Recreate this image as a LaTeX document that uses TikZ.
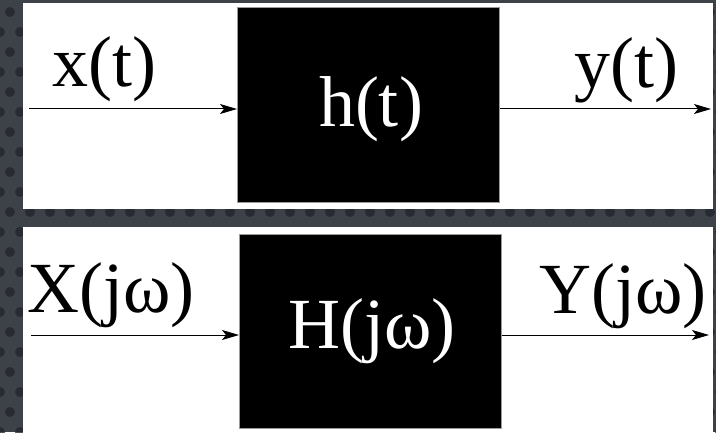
\documentclass[tikz,border=0pt]{standalone}
\usepackage{fontspec}
\setmainfont{Liberation Serif}
\usetikzlibrary{arrows.meta}
\definecolor{bgcol}{HTML}{3D4148}
\definecolor{dotcol}{HTML}{23272D}
\definecolor{edgecol}{HTML}{9A9A9A}
\tikzset{
  panel/.style={fill=white, draw=none},
  sysbox/.style={draw=edgecol, line width=0.8pt, fill=black, inner sep=0pt, anchor=south west},
  lbl/.style={inner sep=0pt, font=\fontsize{72}{76}\selectfont},
  sig/.style={line width=1pt, -{Stealth[length=17pt,width=10pt,inset=4pt]}}
}
\begin{document}
\begin{tikzpicture}[x=1pt,y=1pt]
\useasboundingbox (0,0) rectangle (716,432);
% textured background
\fill[bgcol] (0,0) rectangle (716,432);
\foreach \j in {0,...,22}{
  \pgfmathsetmacro{\off}{mod(\j,2)*10}
  \foreach \i in {0,...,36}{
    \fill[dotcol,opacity=0.8] (\i*20+\off, \j*20) circle (5);
  }
}
% panels
\fill[panel] (23,223) rectangle (713,429);
\fill[panel] (23,-6) rectangle (713,205);
% system boxes
\node[sysbox, minimum width=262pt, minimum height=195pt] (hbox) at (237,229) {};
\node[sysbox, minimum width=262pt, minimum height=194pt] (Hbox) at (239,3) {};
% labels
\node[lbl, anchor=base west] (xlab) at (52,345) {x(t)};
\node[lbl, anchor=base west] (ylab) at (574,344) {y(t)};
\node[lbl, anchor=base, text=white] (hlab) at (371,305) {h(t)};
\node[lbl, anchor=base west] (Xlab) at (27,120) {X(jω)};
\node[lbl, anchor=base west] (Ylab) at (539,119) {Y(jω)};
\node[lbl, anchor=base, text=white] (Hlab) at (372,84) {H(jω)};
% connector ends
\coordinate (xin) at (29,323);
\coordinate (yout) at (711,323);
\coordinate (Xin) at (31,97);
\coordinate (Yout) at (709,97);
% connectors
\draw[sig] (xin) -- (xin -| hbox.west);
\draw[sig] (yout -| hbox.east) -- (yout);
\draw[sig] (Xin) -- (Xin -| Hbox.west);
\draw[sig] (Yout -| Hbox.east) -- (Yout);
\end{tikzpicture}
\end{document}
